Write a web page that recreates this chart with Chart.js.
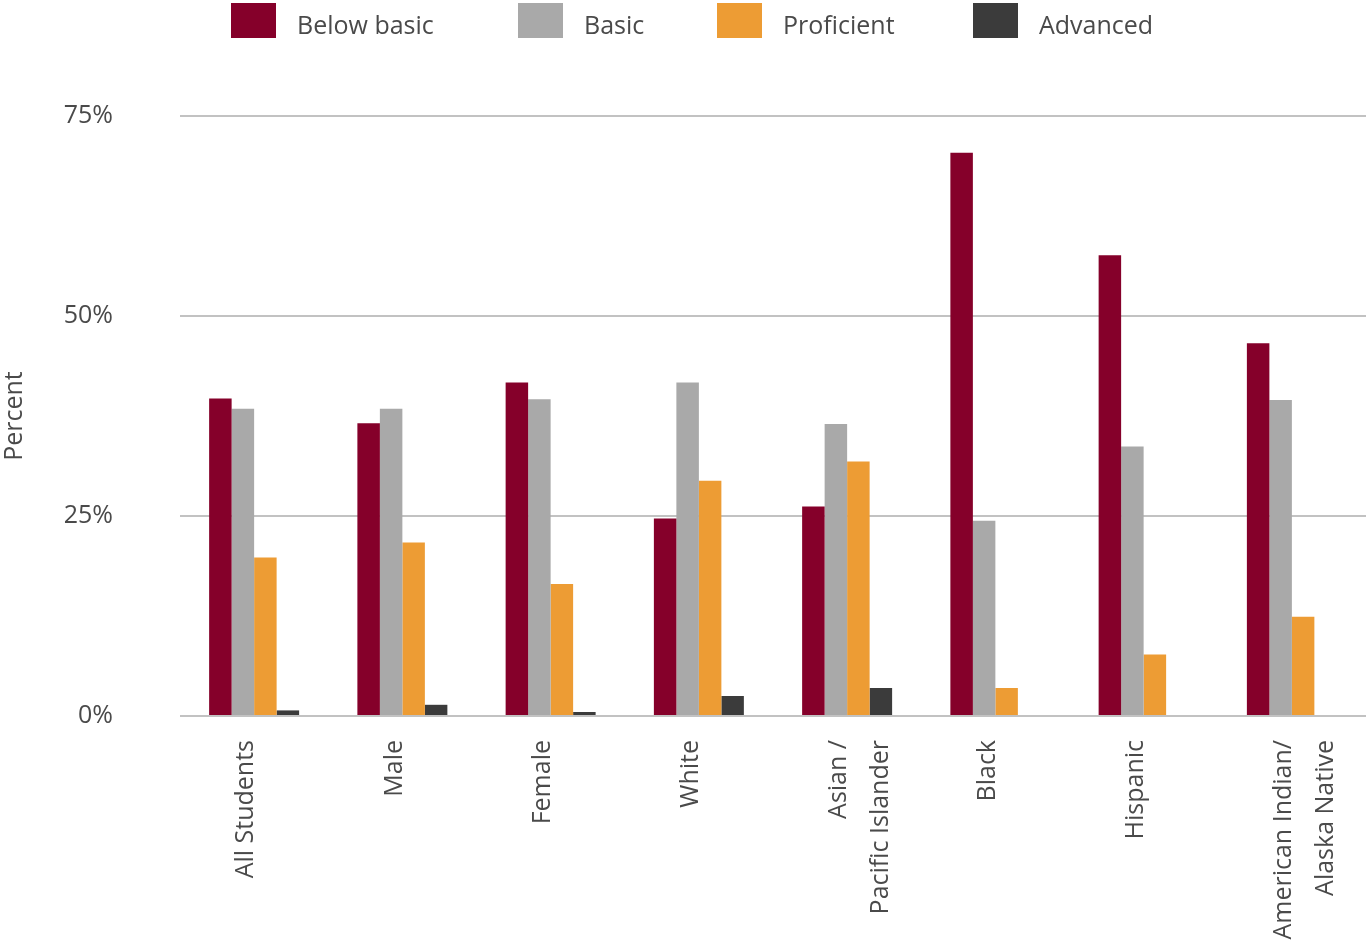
<!DOCTYPE html>
<html>
<head>
<meta charset="utf-8">
<script src="https://cdn.jsdelivr.net/npm/chart.js@4/dist/chart.umd.min.js"></script>
<style>
  html, body { margin: 0; padding: 0; background: #fff; }
  #wrap { position: relative; width: 1366px; height: 947px; }
  #legend {
    position: absolute; left: 0; top: 3px; width: 1366px; height: 40px;
    font-family: "Open Sans", sans-serif; font-size: 25px; color: #4a4a4a;
  }
  .item { position: absolute; top: 0; display: flex; align-items: flex-start; white-space: nowrap; }
  .item:nth-child(1) { left: 231px; }
  .item:nth-child(2) { left: 518px; }
  .item:nth-child(3) { left: 717px; }
  .item:nth-child(4) { left: 973px; }
  .swatch { width: 45px; height: 35px; margin-right: 21px; }
  .item span { line-height: 35px; padding-top: 4px; }
</style>
</head>
<body>
<div id="wrap">
  <canvas id="chart" width="1366" height="947"></canvas>
  <div id="legend"></div>
</div>
<script>
// Student groups along the x axis
const categories = [
  "All Students", "Male", "Female", "White",
  ["Asian /", "Pacific Islander"], "Black", "Hispanic",
  ["American Indian/", "Alaska Native"]
];

// Percent of students at each achievement level
const belowBasic = [39.7, 36.6, 41.7, 24.7, 26.2, 70.4, 57.6, 46.6];
const basic      = [38.4, 38.4, 39.6, 41.7, 36.5, 24.4, 33.7, 39.5];
const proficient = [19.8, 21.7, 16.5, 29.4, 31.8, 3.5, 7.7, 12.4];
const advanced   = [0.7, 1.4, 0.5, 2.5, 3.5, 0, 0, 0];

const seriesNames  = ["Below basic", "Basic", "Proficient", "Advanced"];
const seriesColors = ["#85002a", "#a9a9a9", "#ed9c34", "#3b3b3b"];
const seriesValues = [belowBasic, basic, proficient, advanced];

const yTicks = [0, 25, 50, 75];

const FONT = "'Open Sans', sans-serif";
const TEXT = "#4a4a4a";

const datasets = seriesNames.map((name, i) => ({
  label: name,
  data: seriesValues[i],
  backgroundColor: seriesColors[i],
  borderWidth: 0
}));

// Legend row above the plot
const legendEl = document.getElementById("legend");
datasets.forEach(ds => {
  const item = document.createElement("div");
  item.className = "item";
  const sw = document.createElement("div");
  sw.className = "swatch";
  sw.style.background = ds.backgroundColor;
  const tx = document.createElement("span");
  tx.textContent = ds.label;
  item.appendChild(sw);
  item.appendChild(tx);
  legendEl.appendChild(item);
});

new Chart(document.getElementById("chart"), {
  type: "bar",
  data: { labels: categories, datasets },
  options: {
    responsive: false,
    animation: false,
    layout: { padding: { top: 116, right: 0, bottom: 0, left: 0 } },
    categoryPercentage: 0.607,
    barPercentage: 1,
    plugins: {
      legend: { display: false },
      tooltip: { enabled: false }
    },
    scales: {
      x: {
        grid: { display: false, drawTicks: false },
        border: { display: false },
        ticks: {
          minRotation: 90,
          maxRotation: 90,
          autoSkip: false,
          padding: 24,
          labelOffset: -8,
          color: TEXT,
          font: { family: FONT, size: 25, lineHeight: 1.68 }
        },
        afterFit: s => {
          s.height = 231;
          s.paddingLeft = 0;
          s.paddingRight = 0;
        }
      },
      y: {
        min: 0,
        max: 75,
        afterBuildTicks: s => { s.ticks = yTicks.map(v => ({ value: v })); },
        grid: { color: "#c2c2c2", lineWidth: 2, drawTicks: false },
        border: { display: false },
        ticks: {
          padding: 67,
          color: TEXT,
          font: { family: FONT, size: 25 },
          callback: v => v + "%"
        },
        title: {
          display: true,
          text: "Percent",
          color: TEXT,
          font: { family: FONT, size: 25 },
          padding: { top: 0, bottom: 0 }
        },
        afterFit: s => { s.width = 180; }
      }
    }
  }
});
</script>
</body>
</html>
